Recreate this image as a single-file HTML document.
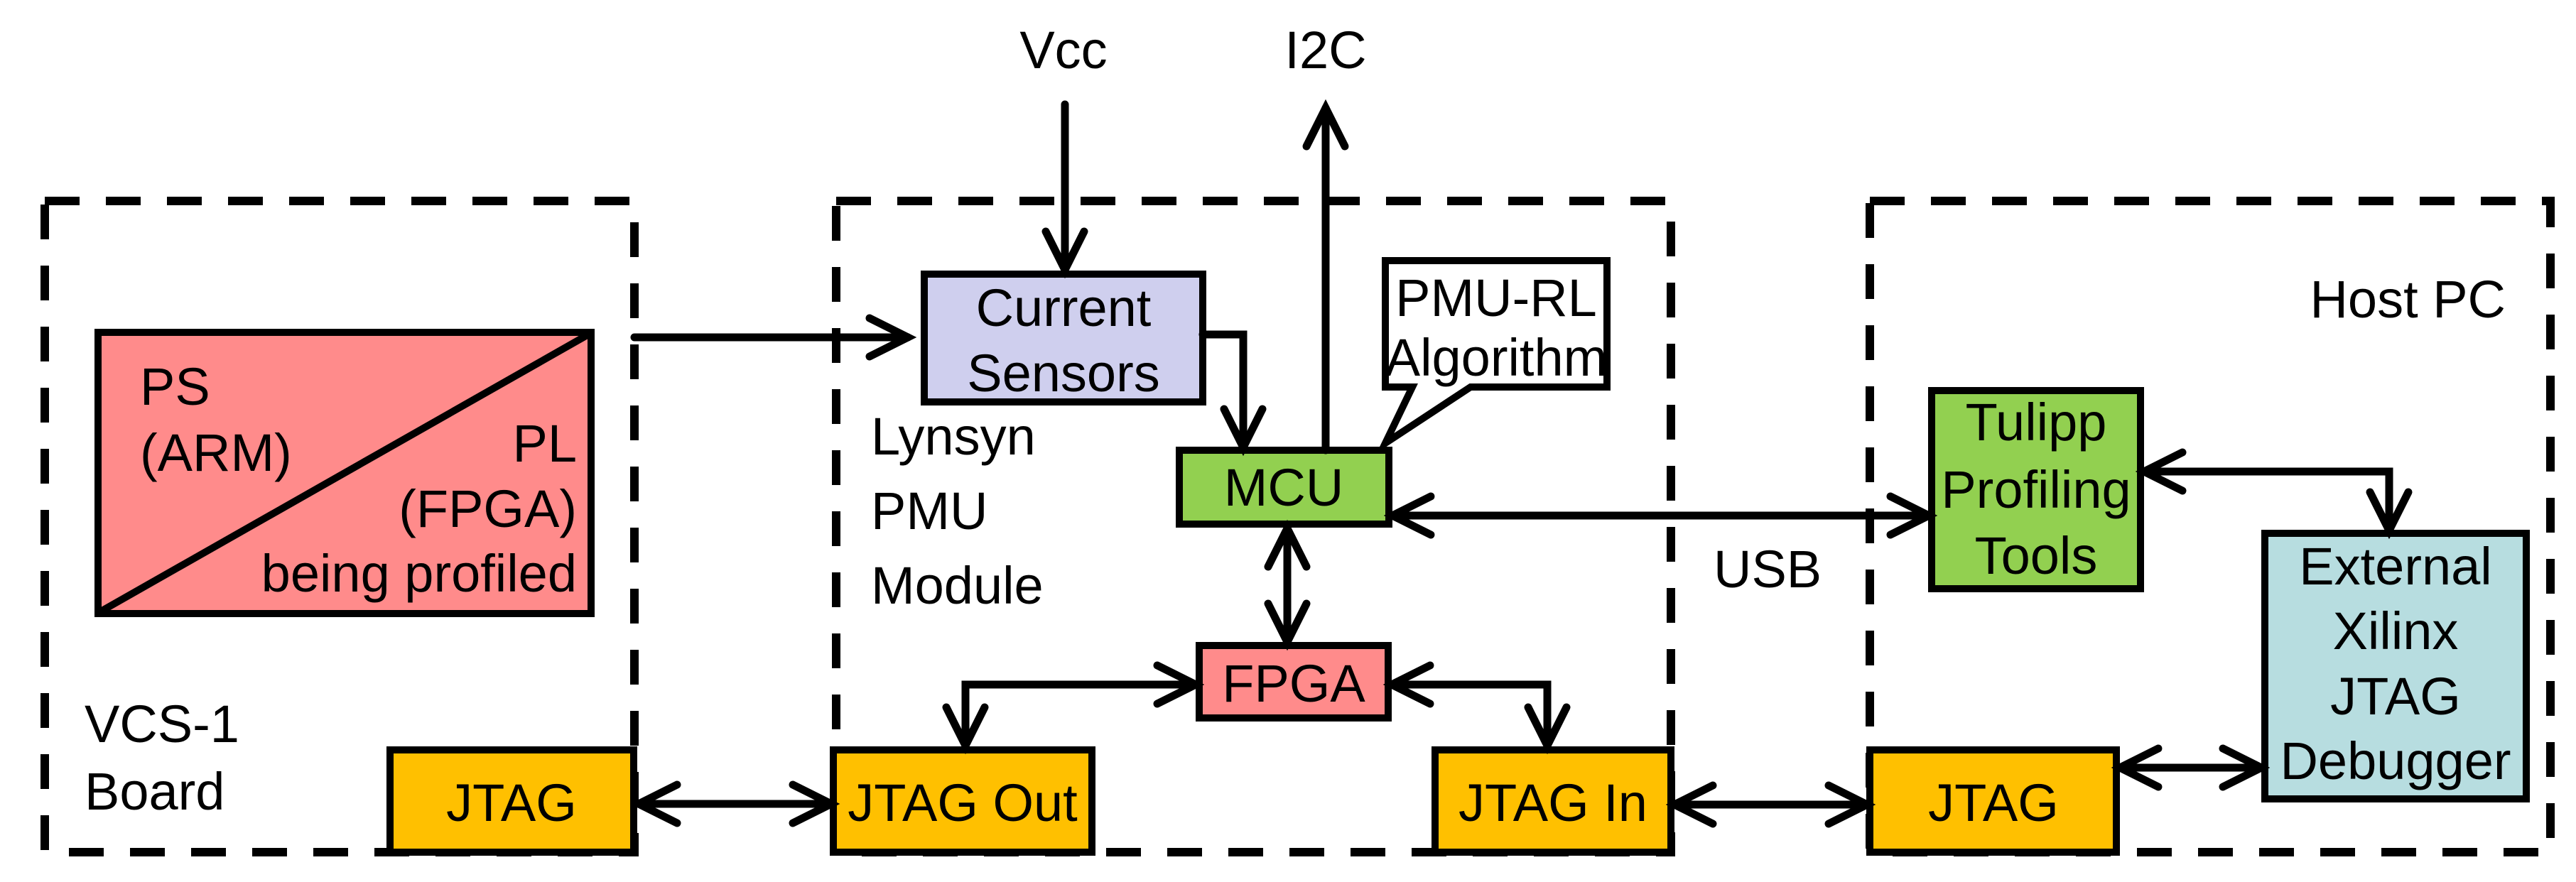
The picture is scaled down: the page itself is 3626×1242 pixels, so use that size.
<!DOCTYPE html>
<html><head><meta charset="utf-8"><style>
html,body{margin:0;padding:0;background:#fff;}
svg{display:block;}
text{font-family:"Liberation Sans",Arial,sans-serif;font-size:74px;fill:#000;}
</style></head><body>
<svg width="3626" height="1242" viewBox="0 0 3626 1242" xmlns="http://www.w3.org/2000/svg">
<g fill="none" stroke="#000" stroke-width="12" stroke-dasharray="49 37">
<rect x="63" y="283" width="830" height="917"/>
<rect x="1177" y="283" width="1175" height="917"/>
<rect x="2632" y="283" width="958" height="917"/>
</g>
<g stroke="#000" stroke-width="10">
<rect x="138" y="468" width="694" height="396" fill="#ff8b8b"/>
<line x1="140" y1="862" x2="830" y2="470"/>
<rect x="549" y="1056" width="343" height="144" fill="#ffc000"/>
<rect x="1301" y="386" width="392" height="180" fill="#cfcfee"/>
<rect x="1660" y="634" width="295" height="104" fill="#92d050"/>
<rect x="1688" y="909" width="266" height="102" fill="#ff8b8b"/>
<rect x="1173" y="1056" width="364" height="144" fill="#ffc000"/>
<rect x="2020" y="1056" width="332" height="144" fill="#ffc000"/>
<rect x="2719" y="550" width="294" height="279" fill="#92d050"/>
<rect x="3188" y="751" width="368" height="374" fill="#b7dde0"/>
<rect x="2632" y="1056" width="347" height="144" fill="#ffc000"/>
<path d="M1950,367 H2262 V545 H2070 L1950,624 L1988,545 H1950 Z" fill="#fff"/>
</g>
<g fill="none" stroke="#000" stroke-width="11" stroke-linecap="round" stroke-linejoin="miter">
<path d="M1499,147 V380"/><path d="M1472,326 L1499,380 L1526,326"/>
<path d="M1866,634 V152"/><path d="M1839,206 L1866,152 L1893,206"/>
<path d="M893,475 H1278"/><path d="M1224,448 L1278,475 L1224,502"/>
<path d="M1693,471 H1750 V630"/><path d="M1723,576 L1750,630 L1777,576"/>
<path d="M1960,726 H2715"/><path d="M2014,699 L1960,726 L2014,753"/><path d="M2661,699 L2715,726 L2661,753"/>
<path d="M1812,744 V904"/><path d="M1785,798 L1812,744 L1839,798"/><path d="M1785,850 L1812,904 L1839,850"/>
<path d="M1683,964 H1359 V1050"/><path d="M1629,937 L1683,964 L1629,991"/><path d="M1332,996 L1359,1050 L1386,996"/>
<path d="M1959,964 H2178 V1050"/><path d="M2013,937 L1959,964 L2013,991"/><path d="M2151,996 L2178,1050 L2205,996"/>
<path d="M899,1132 H1170"/><path d="M953,1105 L899,1132 L953,1159"/><path d="M1116,1105 L1170,1132 L1116,1159"/>
<path d="M2357,1133 H2628"/><path d="M2411,1106 L2357,1133 L2411,1160"/><path d="M2574,1106 L2628,1133 L2574,1160"/>
<path d="M3018,664 H3363 V747"/><path d="M3072,637 L3018,664 L3072,691"/><path d="M3336,693 L3363,747 L3390,693"/>
<path d="M2984,1081 H3183"/><path d="M3038,1054 L2984,1081 L3038,1108"/><path d="M3129,1054 L3183,1081 L3129,1108"/>
</g>
<text x="197" y="570">PS</text>
<text x="197" y="663">(ARM)</text>
<text x="812" y="650" text-anchor="end">PL</text>
<text x="812" y="742" text-anchor="end">(FPGA)</text>
<text x="812" y="833" text-anchor="end">being profiled</text>
<text x="119" y="1045">VCS-1</text>
<text x="119" y="1140">Board</text>
<text x="720" y="1156" text-anchor="middle">JTAG</text>
<text x="1497" y="96" text-anchor="middle">Vcc</text>
<text x="1866" y="96" text-anchor="middle">I2C</text>
<text x="1497" y="459" text-anchor="middle">Current</text>
<text x="1497" y="551" text-anchor="middle">Sensors</text>
<text x="1807" y="712" text-anchor="middle">MCU</text>
<text x="2106" y="445" text-anchor="middle">PMU-RL</text>
<text x="2106" y="529" text-anchor="middle">Algorithm</text>
<text x="1226" y="640">Lynsyn</text>
<text x="1226" y="745">PMU</text>
<text x="1226" y="850">Module</text>
<text x="1821" y="988" text-anchor="middle">FPGA</text>
<text x="1355" y="1156" text-anchor="middle">JTAG Out</text>
<text x="2186" y="1156" text-anchor="middle">JTAG In</text>
<text x="2412" y="827">USB</text>
<text x="3527" y="447" text-anchor="end">Host PC</text>
<text x="2866" y="620" text-anchor="middle">Tulipp</text>
<text x="2866" y="715" text-anchor="middle">Profiling</text>
<text x="2866" y="808" text-anchor="middle">Tools</text>
<text x="3372" y="823" text-anchor="middle">External</text>
<text x="3372" y="914" text-anchor="middle">Xilinx</text>
<text x="3372" y="1006" text-anchor="middle">JTAG</text>
<text x="3372" y="1097" text-anchor="middle">Debugger</text>
<text x="2806" y="1156" text-anchor="middle">JTAG</text>
</svg>
</body></html>
